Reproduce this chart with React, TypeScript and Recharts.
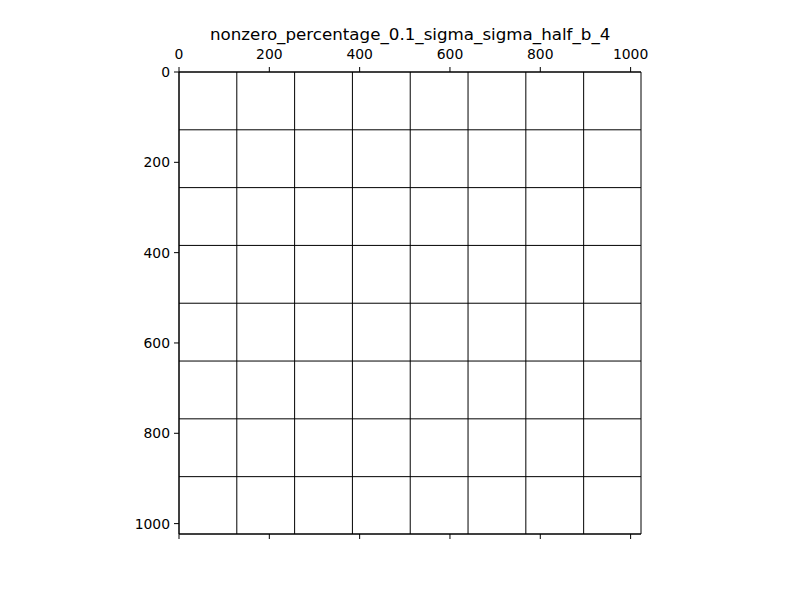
import { ScatterChart, Scatter, XAxis, YAxis, ReferenceLine } from "recharts";

const title = "nonzero_percentage_0.1_sigma_sigma_half_b_4";
const axisMax = 1023;
const tickValues = [0, 200, 400, 600, 800, 1000];
const blockEdges = [128, 256, 384, 512, 640, 768, 896];
const frameEdges = [0, axisMax];
const points: { x: number; y: number }[] = [];

const font = "DejaVu Sans, sans-serif";
const tickStyle = { fontSize: 13.9, fill: "#000", fontFamily: font };

export default function App() {
  return (
    <div style={{ position: "absolute", left: 0, top: 0, width: 800, height: 600, background: "#fff" }}>
      <div
        style={{
          position: "absolute",
          left: 210,
          width: 400,
          top: 24,
          textAlign: "center",
          fontFamily: font,
          fontSize: 16.7,
          color: "#000",
        }}
      >
        {title}
      </div>
      <ScatterChart width={800} height={600} margin={{ top: 42, right: 159, bottom: 36, left: 119 }}>
        <XAxis
          xAxisId="top"
          type="number"
          dataKey="x"
          orientation="top"
          domain={[0, axisMax]}
          ticks={tickValues}
          tick={tickStyle}
          tickSize={5}
          tickMargin={8}
          height={30}
          stroke="#000"
          allowDataOverflow
        />
        <XAxis
          xAxisId="bottom"
          type="number"
          dataKey="x"
          orientation="bottom"
          domain={[0, axisMax]}
          ticks={tickValues}
          tickFormatter={() => ""}
          tickSize={5}
          height={30}
          stroke="#000"
          allowDataOverflow
        />
        <YAxis
          type="number"
          dataKey="y"
          reversed
          domain={[0, axisMax]}
          ticks={tickValues}
          tick={tickStyle}
          tickSize={5}
          tickMargin={4}
          width={60}
          stroke="#000"
          allowDataOverflow
        />
        <Scatter data={points} xAxisId="top" fill="#000" isAnimationActive={false} />
        {blockEdges.concat(frameEdges).map((v) => (
          <ReferenceLine key={"x" + v} x={v} xAxisId="top" stroke="#000" strokeWidth={1} />
        ))}
        {blockEdges.concat(frameEdges).map((v) => (
          <ReferenceLine key={"y" + v} y={v} xAxisId="top" stroke="#000" strokeWidth={1} />
        ))}
      </ScatterChart>
    </div>
  );
}
